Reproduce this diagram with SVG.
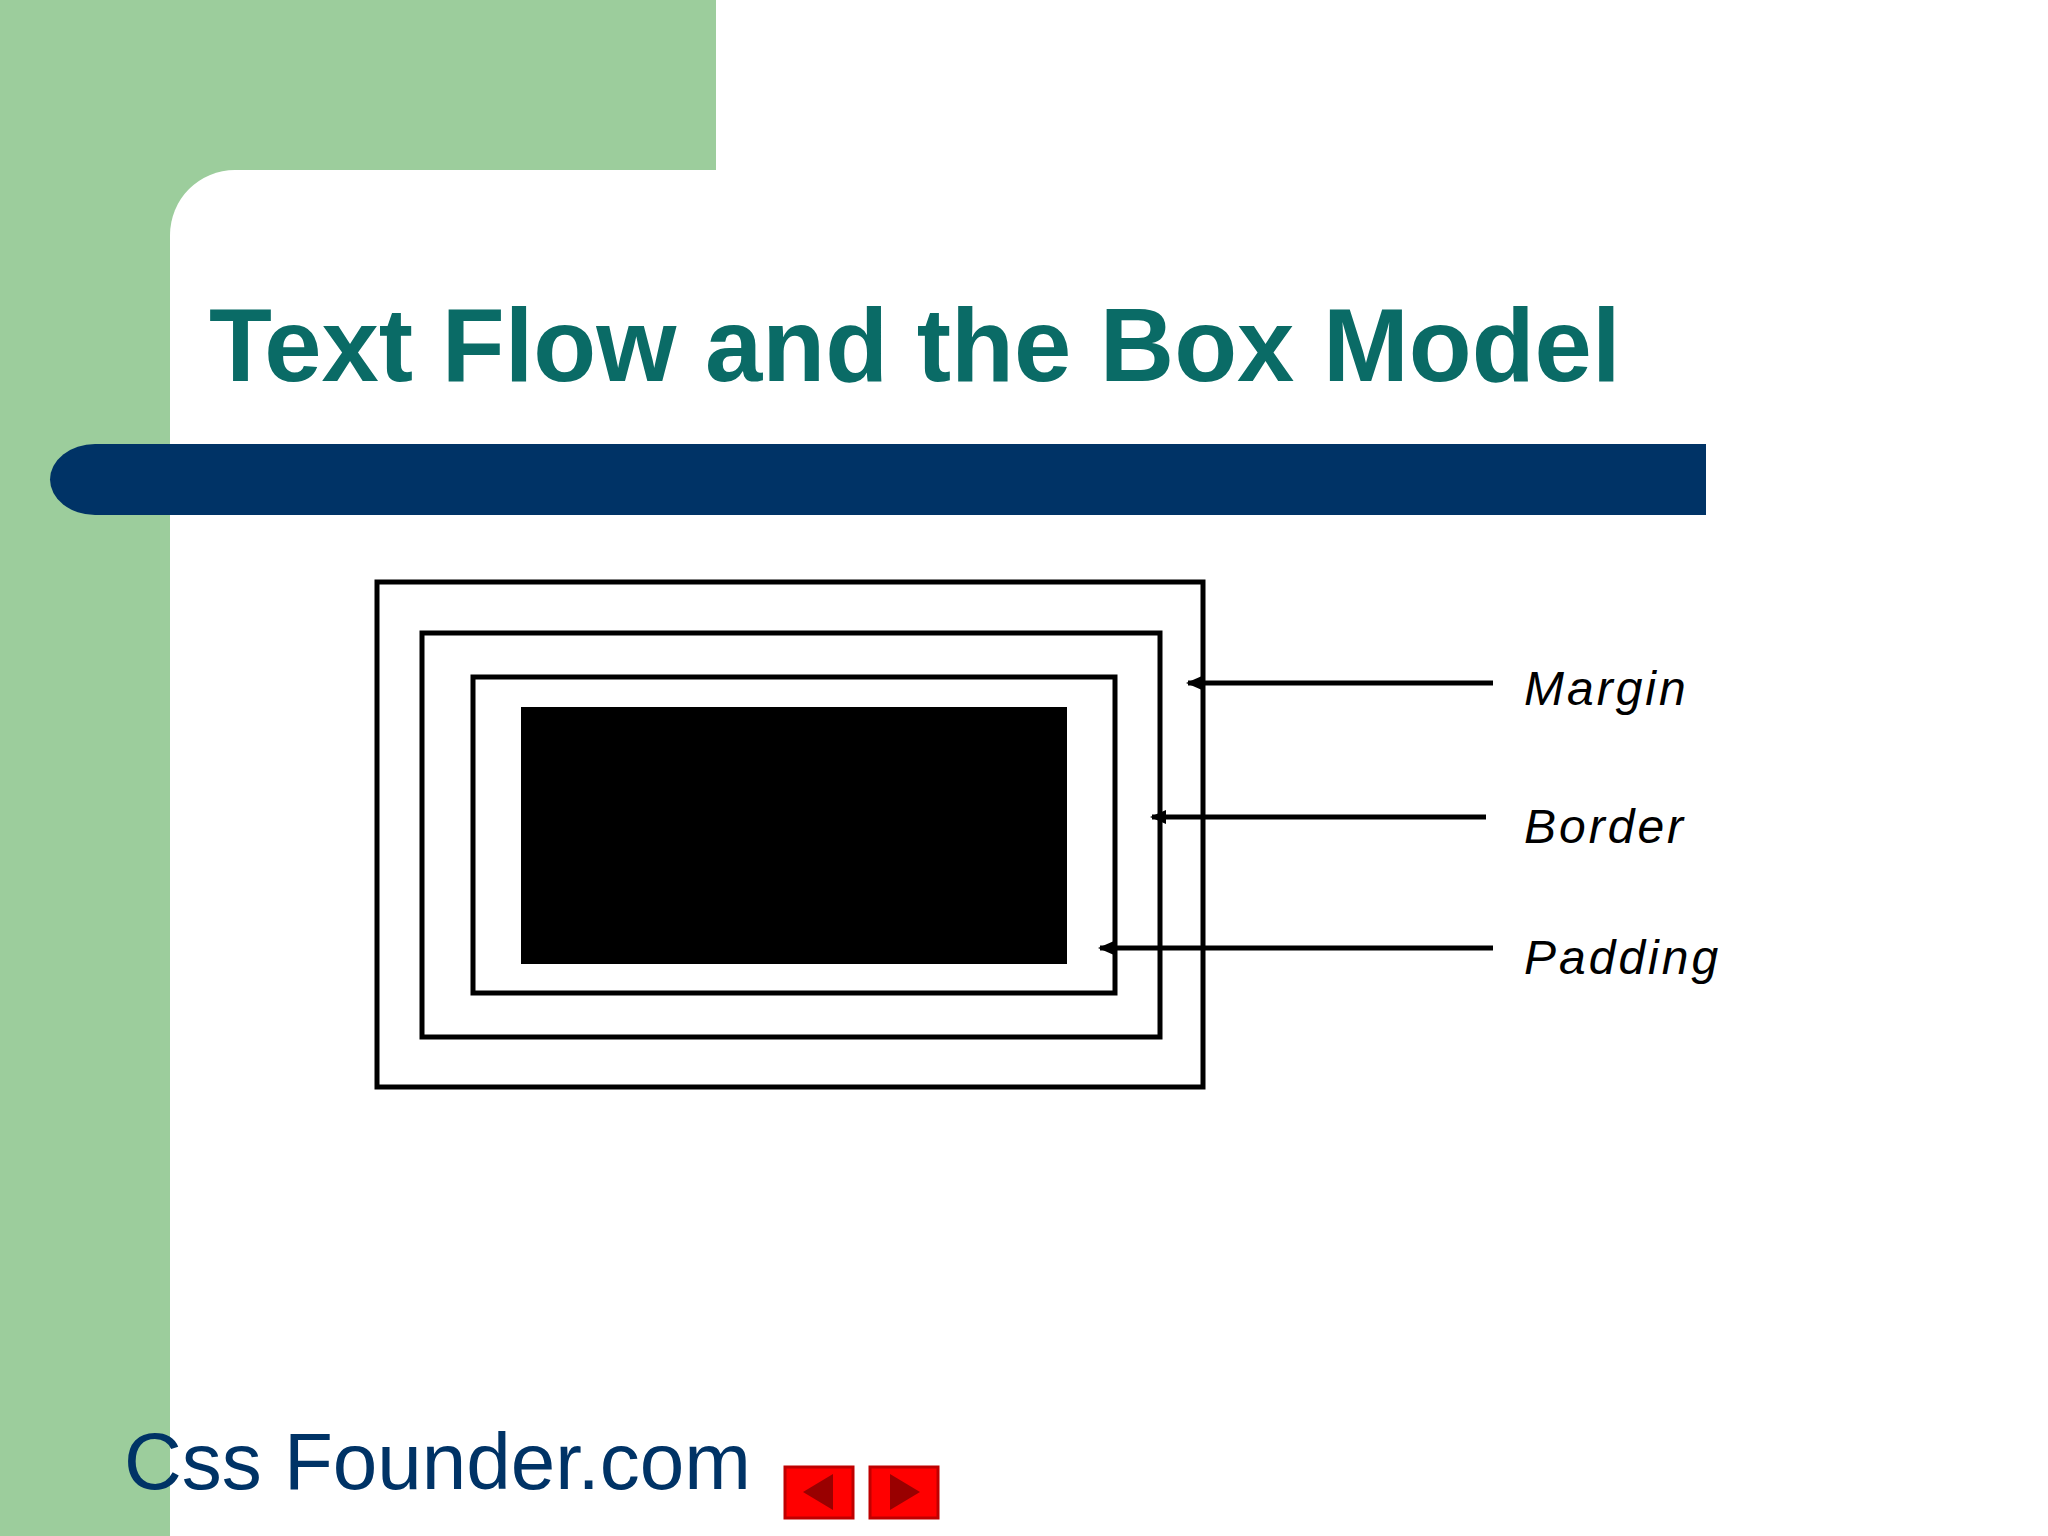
<svg xmlns="http://www.w3.org/2000/svg" width="2048" height="1536" viewBox="0 0 2048 1536">
<style>
.box{fill:none;stroke:#000;stroke-width:5}
.ln{stroke:#000;stroke-width:5}
.lbl{font-family:"Liberation Sans",Arial,sans-serif;font-style:italic;font-size:48px;letter-spacing:3px;fill:#000}
</style>
<defs>
<marker id="ah" markerWidth="16" markerHeight="14" refX="14" refY="7" orient="auto" markerUnits="userSpaceOnUse" viewBox="0 0 16 14"><path d="M16,7 L0,0 L0,14 Z" fill="#000"/></marker>
</defs>
<rect width="2048" height="1536" fill="#fff"/>
<g id="background">
<rect x="0" y="0" width="716" height="170" fill="#9ccd9c"/>
<rect x="0" y="0" width="170" height="1536" fill="#9ccd9c"/>
<rect x="170" y="170" width="65" height="65" fill="#9ccd9c"/>
<path d="M170,235 A65,65 0 0 1 235,170 L716,170 L716,235 Z" fill="#fff"/>
<rect x="170" y="235" width="60" height="1301" fill="#fff"/>
<path d="M95,444 L1706,444 L1706,515 L95,515 A45,35.5 0 0 1 95,444 Z" fill="#003366"/>
</g>
<text id="title" x="209" y="381" font-family="Liberation Sans,Arial,sans-serif" font-weight="bold" font-size="103" fill="#0a6b66">Text Flow and the Box Model</text>
<g id="margin-box"><rect class="box" x="377" y="582" width="826" height="505"/></g>
<g id="border-box"><rect class="box" x="422" y="633" width="738" height="404"/></g>
<g id="padding-box"><rect class="box" x="473" y="677" width="642" height="316"/></g>
<g id="content"><rect x="521" y="707" width="546" height="257" fill="#000"/></g>
<g id="connectors">
<line class="ln" x1="1493" y1="683" x2="1188" y2="683" marker-end="url(#ah)"/>
<line class="ln" x1="1486" y1="817" x2="1152" y2="817" marker-end="url(#ah)"/>
<line class="ln" x1="1493" y1="948" x2="1100" y2="948" marker-end="url(#ah)"/>
</g>
<g id="labels">
<text class="lbl" x="1524" y="705">Margin</text>
<text class="lbl" x="1524" y="843">Border</text>
<text class="lbl" x="1524" y="974">Padding</text>
</g>
<text id="footer" x="124" y="1489" font-family="Liberation Sans,Arial,sans-serif" font-size="80" fill="#003366">Css Founder.com</text>
<g id="btn-prev"><rect x="785" y="1467" width="68" height="51" fill="#ff0000" stroke="#c00000" stroke-width="3"/><path d="M803,1492 L833,1474 L833,1510 Z" fill="#990000"/></g>
<g id="btn-next"><rect x="870" y="1467" width="68" height="51" fill="#ff0000" stroke="#c00000" stroke-width="3"/><path d="M920,1492 L890,1474 L890,1510 Z" fill="#990000"/></g>
</svg>
